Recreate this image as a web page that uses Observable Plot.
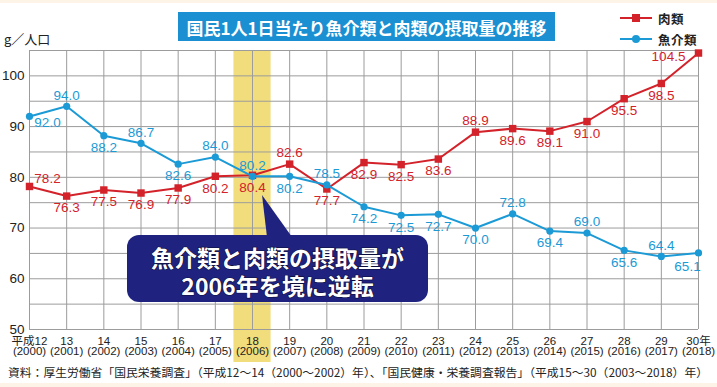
<!DOCTYPE html>
<html><head><meta charset="utf-8">
<script src="https://cdn.jsdelivr.net/npm/d3@7"></script>
<script src="https://cdn.jsdelivr.net/npm/@observablehq/plot@0.6"></script>
<style>
body{margin:0;background:#fff;}
#wrap{position:relative;width:717px;height:387px;overflow:hidden;background:#fff;font-family:"Liberation Sans","Noto Sans CJK JP",sans-serif;}
#wrap > svg{position:absolute;left:0;top:0;}
.strip{position:absolute;left:0;width:717px;background:#fdf3e6;}
</style></head><body><div id="wrap"></div>
<script>
// ---- data ----
const years = [2000,2001,2002,2003,2004,2005,2006,2007,2008,2009,2010,2011,2012,2013,2014,2015,2016,2017,2018];
const meat  = [78.2,76.3,77.5,76.9,77.9,80.2,80.4,82.6,77.7,82.9,82.5,83.6,88.9,89.6,89.1,91.0,95.5,98.5,104.5];
const fish  = [92.0,94.0,88.2,86.7,82.6,84.0,80.2,80.2,78.5,74.2,72.5,72.7,70.0,72.8,69.4,69.0,65.6,64.4,65.1];
const xTickTop    = ["平成12","13","14","15","16","17","18","19","20","21","22","23","24","25","26","27","28","29","30年"];
const xTickBottom = ["(2000)","(2001)","(2002)","(2003)","(2004)","(2005)","(2006)","(2007)","(2008)","(2009)","(2010)","(2011)","(2012)","(2013)","(2014)","(2015)","(2016)","(2017)","(2018)"];
const yTicks = [50,60,70,80,90,100];
const yGrid  = [50,55,60,65,70,75,80,85,90,95,100,105];
const yDomain = [50,105];
const highlightYear = [2006];
const seriesNames = ["肉類","魚介類"];
const titleText = "国民1人1日当たり魚介類と肉類の摂取量の推移";
const unitText = "g／人口";
const calloutLines = ["魚介類と肉類の摂取量が","2006年を境に逆転"];
const captionText = "資料：厚生労働省「国民栄養調査」（平成12～14（2000～2002）年）、「国民健康・栄養調査報告」（平成15～30（2003～2018）年）";

// ---- label placement (layout) ----
const meatPlace = ["ar","b","b","b","b","b","b","a","b","b","b","b","a","b","b","b","b","b","l"];
const fishPlace = ["br","a","b","a","b","a","a","b","a","b","b","b","b","a","b","a","b","a","bl"];
const offsets = {a:[0,-11], b:[0,12], ar:[18,-8], br:[18,6], l:[-30,4], bl:[-11,14]};

const RED = "#d3222a", BLUE = "#1b9ad6";
const meatData = years.map((y,i)=>({year:y, v:meat[i], place:meatPlace[i]}));
const fishData = years.map((y,i)=>({year:y, v:fish[i], place:fishPlace[i]}));

function labels(data, color){
  return Object.entries(offsets).map(([k,[dx,dy]]) =>
    Plot.text(data.filter(d=>d.place===k), {x:"year", y:"v", text:d=>d.v.toFixed(1), dx, dy, fill:color, fontSize:13.5}));
}

const chart = Plot.plot({
  width:717, height:387,
  marginTop:50, marginBottom:58, marginLeft:29, marginRight:19,
  x:{domain:[years[0], years[years.length-1]]},
  y:{domain:yDomain},
  style:{background:"transparent", fontFamily:'"Liberation Sans","Noto Sans CJK JP",sans-serif', overflow:"visible", color:"#222"},
  marks:[
    Plot.rect(highlightYear, {x1:d=>d-0.5, x2:d=>d+0.5, y1:yDomain[0], y2:yDomain[1], fill:"#f1dd7c", insetBottom:-33}),
    Plot.ruleY(yGrid, {stroke:"#9c9c9c", strokeWidth:1}),
    Plot.ruleX(years, {stroke:"#9c9c9c", strokeWidth:1}),
    Plot.axisY(yTicks, {tickSize:0, tickPadding:5, fontSize:13.5, label:null}),
    Plot.axisX(years, {tickSize:0, tickPadding:7, fontSize:11.5, label:null,
      tickFormat:d=>xTickTop[years.indexOf(d)]}),
    Plot.axisX(years, {tickSize:0, tickPadding:17, fontSize:11.5, label:null,
      tickFormat:d=>xTickBottom[years.indexOf(d)]}),
    Plot.line(meatData, {x:"year", y:"v", stroke:RED, strokeWidth:2}),
    Plot.dot(meatData, {x:"year", y:"v", symbol:"square", r:4.2, fill:RED}),
    Plot.line(fishData, {x:"year", y:"v", stroke:BLUE, strokeWidth:2}),
    Plot.dot(fishData, {x:"year", y:"v", r:3.6, fill:BLUE}),
    ...labels(meatData, RED),
    ...labels(fishData, BLUE)
  ]
});

const wrap = document.getElementById("wrap");
wrap.appendChild(chart);

// strips
const s1 = document.createElement("div"); s1.className="strip"; s1.style.top="0px"; s1.style.height="3px"; wrap.appendChild(s1);
const s2 = document.createElement("div"); s2.className="strip"; s2.style.top="383px"; s2.style.height="4px"; wrap.appendChild(s2);

// overlay (title, legend, unit, callout, caption)
const ov = d3.select(wrap).append("svg").attr("width",717).attr("height",387)
  .style("position","absolute").style("left",0).style("top",0)
  .style("font-family",'"Liberation Sans","Noto Sans CJK JP",sans-serif');

ov.append("rect").attr("x",178).attr("y",12).attr("width",377).attr("height",29).attr("fill","#1a90d2");
ov.append("text").attr("x",366.5).attr("y",27).attr("text-anchor","middle").attr("dominant-baseline","central")
  .attr("fill","#fff").attr("font-size",17).attr("font-weight","bold")
  .style("font-family",'"Noto Sans CJK JP",sans-serif').text(titleText);

// legend
[[RED,18,"square"],[BLUE,39,"circle"]].forEach(([c,y,sym],i)=>{
  ov.append("line").attr("x1",620).attr("x2",652).attr("y1",y).attr("y2",y).attr("stroke",c).attr("stroke-width",2);
  if(sym==="square") ov.append("rect").attr("x",632).attr("y",y-4).attr("width",8).attr("height",8).attr("fill",c);
  else ov.append("circle").attr("cx",636).attr("cy",y).attr("r",4).attr("fill",c);
  ov.append("text").attr("x",658).attr("y",y).attr("dominant-baseline","central").attr("font-size",12.5)
    .attr("font-weight","bold").attr("letter-spacing",0.5).attr("fill","#222")
    .style("font-family",'"Noto Sans CJK JP",sans-serif').text(seriesNames[i]);
});

// unit
ov.append("text").attr("x",4).attr("y",38).attr("dominant-baseline","central").attr("font-size",13)
  .attr("fill","#222").style("font-family",'"Noto Sans CJK JP",sans-serif').text(unitText);

// callout
const NAVY = "#1f237f";
ov.append("path").attr("d","M262,195 L267,237 L292,237 Z").attr("fill",NAVY);
ov.append("rect").attr("x",127).attr("y",235).attr("width",301).attr("height",67).attr("rx",12).attr("fill",NAVY);
calloutLines.forEach((t,i)=>{
  ov.append("text").attr("x",277.5).attr("y",i===0?257:285).attr("text-anchor","middle").attr("dominant-baseline","central")
    .attr("font-size",23).attr("font-weight","bold").attr("fill","#fff")
    .attr("stroke","#0b0d3a").attr("stroke-width",1.2).attr("paint-order","stroke")
    .style("font-family",'"Noto Sans CJK JP",sans-serif').text(t);
});

// caption
ov.append("text").attr("x",8).attr("y",372).attr("dominant-baseline","central").attr("font-size",11.5)
  .attr("fill","#222").attr("textLength",700).attr("lengthAdjust","spacingAndGlyphs")
  .style("font-family",'"Noto Sans CJK JP",sans-serif').text(captionText);
</script></body></html>
